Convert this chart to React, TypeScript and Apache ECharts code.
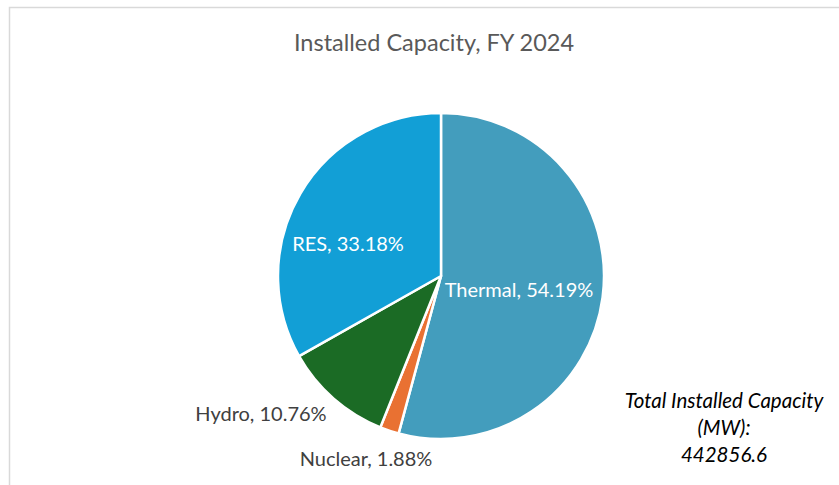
import React, { useEffect, useRef } from "react";
import * as echarts from "echarts";

const titleText = "Installed Capacity, FY 2024";
const categories = ["Thermal", "Nuclear", "Hydro", "RES"];
const shares = [54.19, 1.88, 10.76, 33.18];
const totalCapacityMW = 442856.6;
const totalLines = ["Total Installed Capacity", "(MW):", String(totalCapacityMW)];

const colors = ["#439DBD", "#E97132", "#1B6B25", "#129FD6"];
const labelColors = ["#FFFFFF", "#404040", "#404040", "#FFFFFF"];
const labelAnchors = [
  [519, 289],
  [366, 458],
  [261, 413],
  [348, 243],
];

const FONT = "Lato, 'Open Sans', sans-serif";

export default function App() {
  const ref = useRef<HTMLDivElement>(null);
  useEffect(() => {
    if (!ref.current) return;
    const chart = echarts.init(ref.current, null, { renderer: "svg" });
    chart.setOption({
      animation: false,
      backgroundColor: "#FFFFFF",
      title: {
        text: titleText,
        left: 429,
        top: 25,
        textAlign: "center",
        textStyle: { color: "#595959", fontSize: 23.5, fontWeight: "normal", fontFamily: FONT },
      },
      graphic: [
        {
          type: "rect",
          shape: { x: 9.5, y: 7.5, width: 1000, height: 600 },
          style: { fill: "none", stroke: "#D9D9D9", lineWidth: 1.5 },
          silent: true,
        },
        {
          type: "text",
          x: 724,
          y: 386,
          style: {
            text: totalLines.join("\n"),
            textAlign: "center",
            fill: "#000000",
            fontSize: 20.5,
            fontStyle: "italic",
            fontFamily: FONT,
            lineHeight: 27,
          },
        },
      ],
      series: [
        {
          type: "pie",
          center: [441, 276],
          radius: 163,
          startAngle: 90,
          clockwise: true,
          itemStyle: { borderColor: "#FFFFFF", borderWidth: 2.5 },
          labelLine: { show: false },
          label: {
            show: true,
            position: "inside",
            fontSize: 20,
            fontFamily: FONT,
            formatter: (p: any) => `${p.name}, ${Number(p.value).toFixed(2)}%`,
          },
          labelLayout: (p: any) => ({
            x: labelAnchors[p.dataIndex][0],
            y: labelAnchors[p.dataIndex][1],
            align: "center",
            verticalAlign: "middle",
          }),
          data: categories.map((name, i) => ({
            name,
            value: shares[i],
            itemStyle: { color: colors[i] },
            label: { color: labelColors[i] },
          })),
        },
      ],
    });
    return () => chart.dispose();
  }, []);
  return (
    <div
      ref={ref}
      style={{ position: "fixed", left: 0, top: 0, width: 839, height: 485 }}
    />
  );
}
